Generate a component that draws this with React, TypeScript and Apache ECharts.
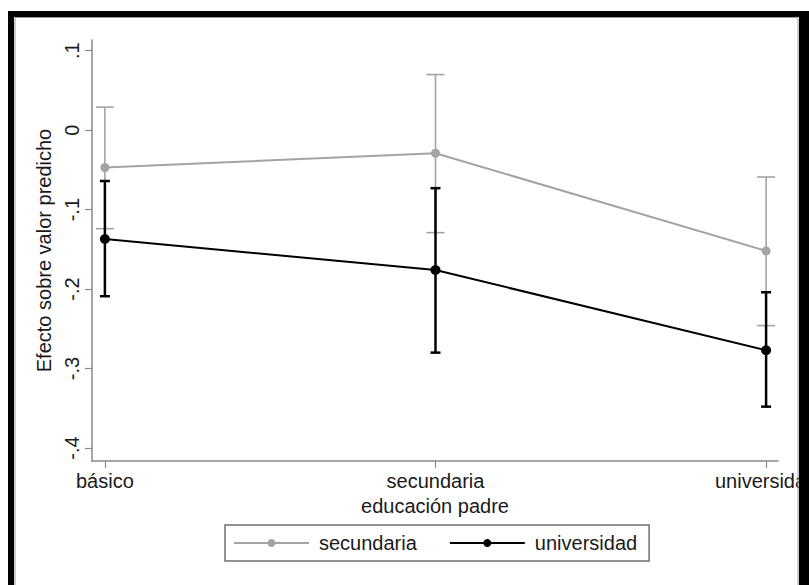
import React, { useEffect, useRef } from "react";
import * as echarts from "echarts";

const categories = ["básico", "secundaria", "universidad"];
const secMean = [-0.047, -0.029, -0.152];
const secLo = [-0.124, -0.129, -0.246];
const secHi = [0.029, 0.070, -0.059];
const uniMean = [-0.137, -0.176, -0.277];
const uniLo = [-0.209, -0.280, -0.348];
const uniHi = [-0.064, -0.073, -0.204];
const yTicks = [0.1, 0, -0.1, -0.2, -0.3, -0.4];
const xTicks = [0, 1, 2];

const FONT = "'Liberation Sans', Arial, Helvetica, sans-serif";
const GRAY = "#a3a3a3";
const BLACK = "#000000";
const AXIS = "#8a8a8a";
const FS = 20;

function fmtY(v: number): string {
  const r = Math.round(v * 10);
  if (r === 0) return "0";
  return (r < 0 ? "-" : "") + "." + Math.abs(r);
}

function ciSeries(name: string, lo: number[], hi: number[], color: string, width: number, cap: number) {
  return {
    type: "custom",
    name,
    data: lo.map((l, i) => [i, l, hi[i]]),
    renderItem: (params: any, api: any) => {
      const x = api.value(0);
      const top = api.coord([x, api.value(2)]);
      const bot = api.coord([x, api.value(1)]);
      const style = { stroke: color, lineWidth: width };
      return {
        type: "group",
        children: [
          { type: "line", shape: { x1: top[0], y1: top[1], x2: bot[0], y2: bot[1] }, style },
          { type: "line", shape: { x1: top[0] - cap, y1: top[1], x2: top[0] + cap, y2: top[1] }, style },
          { type: "line", shape: { x1: bot[0] - cap, y1: bot[1], x2: bot[0] + cap, y2: bot[1] }, style },
        ],
      };
    },
    encode: { x: 0, y: [1, 2] },
    silent: true,
  };
}

export default function App() {
  const ref = useRef<HTMLDivElement>(null);
  useEffect(() => {
    if (!ref.current) return;
    const chart = echarts.init(ref.current, null, { renderer: "svg" });
    chart.setOption({
      animation: false,
      backgroundColor: "#ffffff",
      textStyle: { fontFamily: FONT },
      grid: { left: 92, right: 31, top: 40, bottom: 124, containLabel: false, outerBoundsMode: "none" },
      xAxis: {
        type: "value",
        min: -0.039,
        max: 2.036,
        name: "educación padre",
        nameLocation: "middle",
        nameGap: 31,
        nameTextStyle: { fontSize: FS, color: "#1a1a1a", fontFamily: FONT },
        axisLine: { show: true, onZero: false, lineStyle: { color: AXIS, width: 1.5 } },
        axisTick: { show: true, length: 7, lineStyle: { color: AXIS, width: 1.2 }, customValues: xTicks },
        axisLabel: {
          fontSize: FS,
          color: "#1a1a1a",
          margin: 10,
          fontFamily: FONT,
          customValues: xTicks,
          formatter: (v: number) => categories[Math.round(v)] ?? "",
        },
        splitLine: { show: false },
      },
      yAxis: {
        type: "value",
        min: -0.4164,
        max: 0.1135,
        name: "Efecto sobre valor predicho",
        nameLocation: "middle",
        nameGap: 38,
        nameRotate: 90,
        nameTextStyle: { fontSize: FS, color: "#1a1a1a", fontFamily: FONT },
        axisLine: { show: true, onZero: false, lineStyle: { color: AXIS, width: 1.5 } },
        axisTick: { show: true, length: 7, lineStyle: { color: AXIS, width: 1.2 }, customValues: yTicks },
        axisLabel: {
          fontSize: FS,
          color: "#1a1a1a",
          rotate: 90,
          margin: 10,
          fontFamily: FONT,
          customValues: yTicks,
          formatter: (v: number) => fmtY(v),
        },
        splitLine: { show: false },
      },
      legend: {
        data: ["secundaria", "universidad"],
        left: 225,
        top: 525,
        orient: "horizontal",
        itemWidth: 75,
        itemHeight: 10,
        itemGap: 32,
        padding: [8, 12, 8, 8],
        borderColor: "#6f6f6f",
        borderWidth: 1.5,
        textStyle: { fontSize: FS, color: "#1a1a1a", fontFamily: FONT, padding: [0, 0, 0, 5] },
      },
      series: [
        ciSeries("ci_sec", secLo, secHi, GRAY, 1.6, 9),
        {
          type: "line",
          name: "secundaria",
          data: secMean.map((v, i) => [i, v]),
          symbol: "circle",
          symbolSize: 9,
          lineStyle: { color: GRAY, width: 2 },
          itemStyle: { color: GRAY },
        },
        ciSeries("ci_uni", uniLo, uniHi, BLACK, 2.5, 5),
        {
          type: "line",
          name: "universidad",
          data: uniMean.map((v, i) => [i, v]),
          symbol: "circle",
          symbolSize: 10,
          lineStyle: { color: BLACK, width: 2 },
          itemStyle: { color: BLACK },
        },
      ],
      graphic: [
        { type: "rect", z: 100, shape: { x: 8, y: 11, width: 801, height: 6 }, style: { fill: "#000" } },
        { type: "rect", z: 100, shape: { x: 8, y: 11, width: 6, height: 574 }, style: { fill: "#000" } },
        { type: "rect", z: 100, shape: { x: 799, y: 11, width: 10, height: 574 }, style: { fill: "#000" } },
        { type: "line", z: 100, shape: { x1: 15, y1: 17.5, x2: 798, y2: 17.5 }, style: { stroke: "#9a9a9a", lineWidth: 1 } },
        { type: "line", z: 100, shape: { x1: 15, y1: 17.5, x2: 15, y2: 585 }, style: { stroke: "#9a9a9a", lineWidth: 1 } },
        { type: "line", z: 100, shape: { x1: 798, y1: 17.5, x2: 798, y2: 585 }, style: { stroke: "#9a9a9a", lineWidth: 1 } },
      ],
    });
    return () => chart.dispose();
  }, []);
  return (
    <div
      ref={ref}
      style={{ position: "fixed", left: 0, top: 0, width: 809, height: 585, background: "#fff" }}
    />
  );
}
